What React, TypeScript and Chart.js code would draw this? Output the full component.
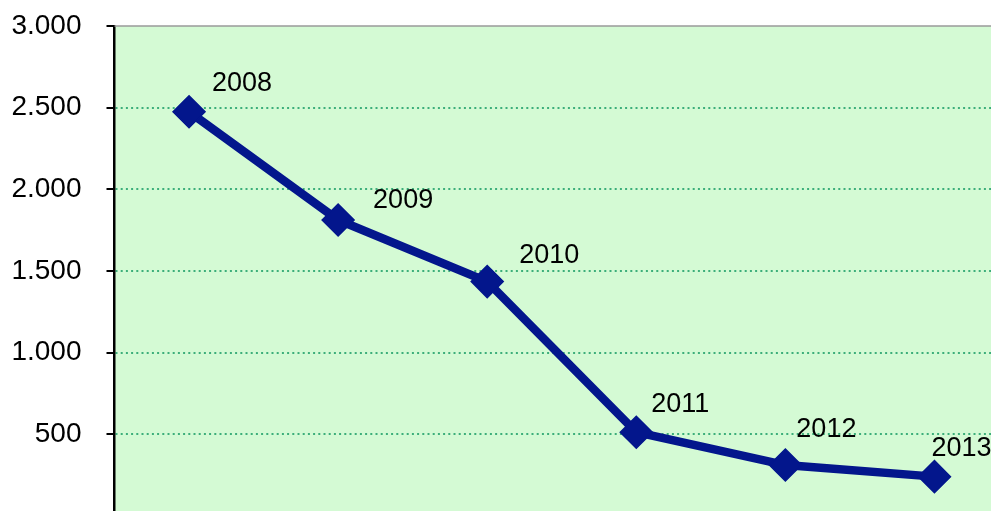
import React, { useEffect, useRef } from "react";
import { Chart, registerables } from "chart.js";

Chart.register(...registerables);

const years = ["2008", "2009", "2010", "2011", "2012", "2013"];
const values = [2475, 1812, 1435, 513, 312, 241];
const yMin = 0;
const yMax = 3000;
const yStep = 500;
// label placement relative to each point (style only)
const labelDx = [53, 65, 62, 44, 41, 27];
const labelDy = [-28, -19, -26, -28, -35, -28];

const FONT = "'Liberation Sans', Arial, sans-serif";
const LINE_COLOR = "#03168c";
const GRID_GREEN = "#3cae7a";
const BG_GREEN = "#d4fad4";

const plotPlugin = {
  id: "plotDecor",
  beforeDraw(chart: any) {
    const { ctx, chartArea } = chart;
    ctx.save();
    ctx.fillStyle = BG_GREEN;
    ctx.fillRect(chartArea.left, chartArea.top, chartArea.right - chartArea.left, chartArea.bottom - chartArea.top);
    ctx.restore();
  },
  beforeDatasetsDraw(chart: any) {
    const { ctx, chartArea } = chart;
    ctx.save();
    ctx.strokeStyle = "#9a9a9a";
    ctx.lineWidth = 1.5;
    ctx.beginPath();
    ctx.moveTo(chartArea.left, chartArea.top);
    ctx.lineTo(chartArea.right, chartArea.top);
    ctx.stroke();
    ctx.restore();
  },
  afterDatasetsDraw(chart: any) {
    const { ctx } = chart;
    const meta = chart.getDatasetMeta(0);
    ctx.save();
    ctx.font = `27px ${FONT}`;
    ctx.fillStyle = "#000";
    ctx.textAlign = "center";
    ctx.textBaseline = "middle";
    meta.data.forEach((pt: any, i: number) => {
      ctx.fillText(years[i], pt.x + labelDx[i], pt.y + labelDy[i]);
    });
    ctx.restore();
  },
};

export default function App() {
  const ref = useRef<HTMLCanvasElement>(null);
  useEffect(() => {
    if (!ref.current) return;
    const chart = new Chart(ref.current, {
      type: "line",
      data: {
        labels: years,
        datasets: [
          {
            data: values,
            borderColor: LINE_COLOR,
            backgroundColor: LINE_COLOR,
            borderWidth: 8.5,
            tension: 0,
            pointStyle: "rectRot",
            pointRadius: 16,
            pointBorderWidth: 1.5,
            pointBorderColor: LINE_COLOR,
            pointBackgroundColor: LINE_COLOR,
          },
        ],
      },
      options: {
        animation: false,
        responsive: false,
        devicePixelRatio: 1,
        layout: { autoPadding: false, padding: { top: 26, bottom: 0, left: 0, right: 0 } },
        plugins: { legend: { display: false }, tooltip: { enabled: false } },
        scales: {
          x: { display: false, offset: true },
          y: {
            min: yMin,
            max: yMax,
            afterFit(scale: any) {
              scale.width = 114.5;
              scale.paddingTop = 0;
              scale.paddingBottom = 0;
            },
            ticks: {
              stepSize: yStep,
              padding: 25,
              color: "#000",
              font: { family: FONT, size: 28 },
              callback: (v: any) => (v === 0 ? null : Number(v).toLocaleString("de-DE")),
            },
            grid: {
              drawOnChartArea: true,
              drawTicks: true,
              tickLength: 8,
              tickColor: "#000",
              tickWidth: 2,
              lineWidth: 2,
              color: (c: any) => (c.tick && (c.tick.value === yMax || c.tick.value === 0) ? "transparent" : GRID_GREEN),
            },
            border: { display: true, color: "#000", width: 2.5, dash: [2, 3.2] },
          },
        },
      },
      plugins: [plotPlugin],
    });
    return () => chart.destroy();
  }, []);
  return (
    <div style={{ position: "fixed", left: 0, top: 0, width: 991, height: 511, overflow: "hidden", background: "#fff" }}>
      <canvas ref={ref} width={1009} height={516} style={{ display: "block", width: 1009, height: 516 }} />
    </div>
  );
}
